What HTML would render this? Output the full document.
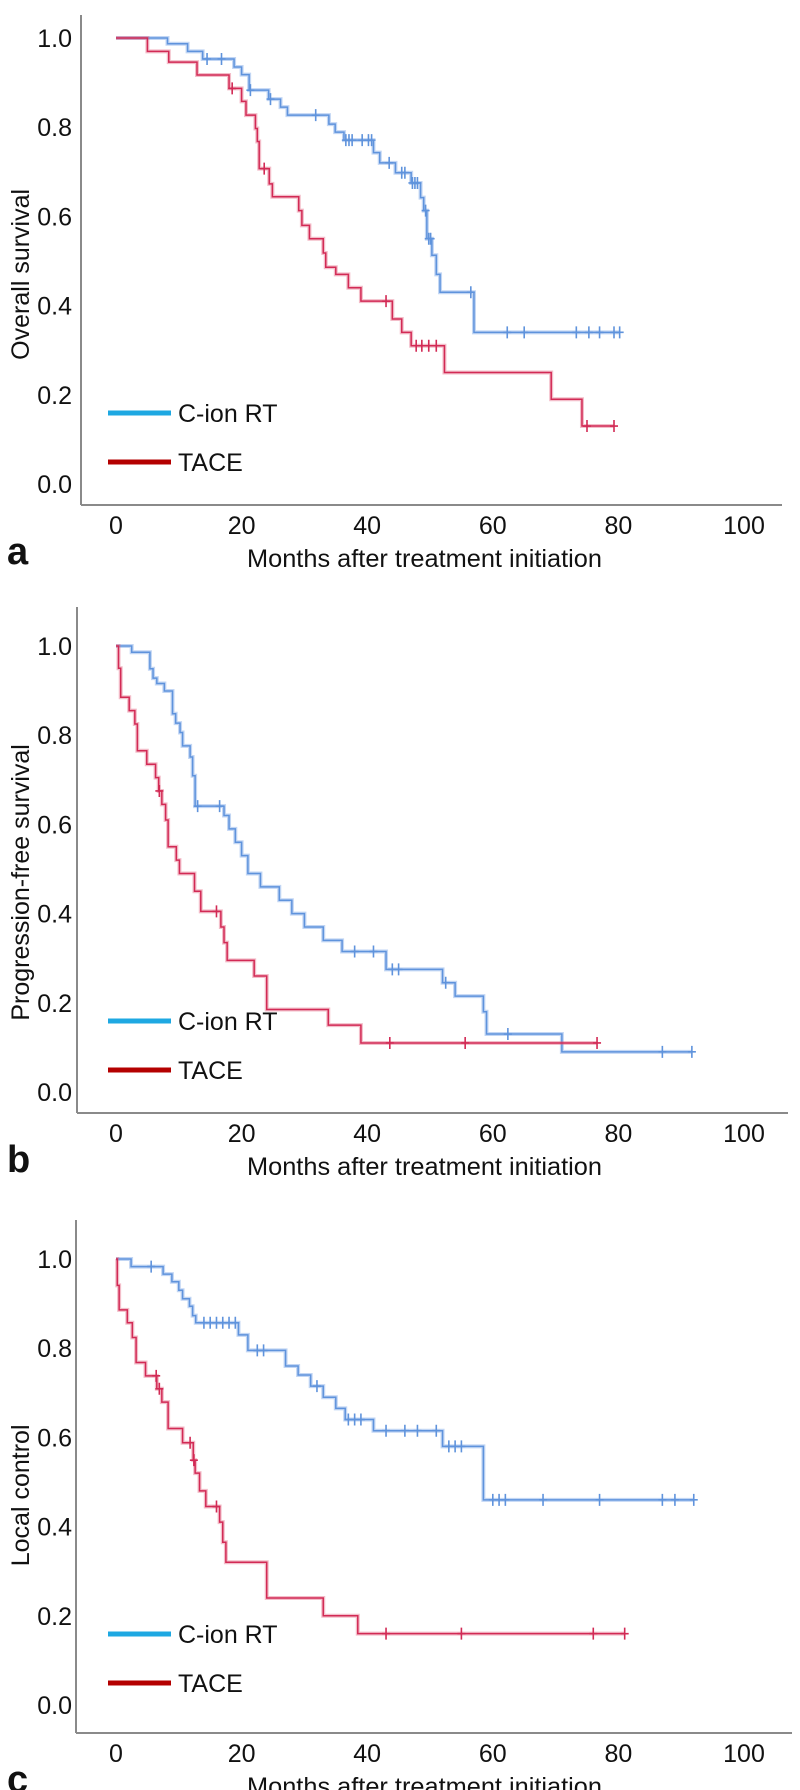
<!DOCTYPE html>
<html>
<head>
<meta charset="utf-8">
<style>
  html,body{margin:0;padding:0;background:#fff;}
  svg{display:block;}
  text{font-family:"Liberation Sans",Arial,sans-serif;fill:#111;}
</style>
</head>
<body>
<svg id="fig" width="800" height="1790" viewBox="0 0 800 1790" xmlns="http://www.w3.org/2000/svg"></svg>
<script>
// ---------- shared axis data ----------
const xTicks = [0, 20, 40, 60, 80, 100];
const yTicks = [0.0, 0.2, 0.4, 0.6, 0.8, 1.0];
const xTitle = "Months after treatment initiation";

// ---------- Panel a: Overall survival ----------
const aBlueDropT = [8.2, 11.4, 13.8, 18.8, 20, 21.2, 24.3, 26.2, 27.3, 33.9, 34.9, 36.3, 41, 42, 44.5, 47, 48.5, 49, 49.5, 50.3, 51, 51.6, 57];
const aBlueDropV = [0.987, 0.97, 0.953, 0.935, 0.918, 0.883, 0.863, 0.845, 0.827, 0.807, 0.789, 0.771, 0.743, 0.72, 0.698, 0.675, 0.642, 0.613, 0.55, 0.513, 0.47, 0.43, 0.34];
const aBlueCens = [14.5, 16.8, 21.4, 24.6, 31.8, 36.6, 37.1, 37.6, 39.2, 40.2, 40.7, 43.5, 45.5, 46, 47.2, 47.6, 48, 49.3, 49.8, 50.1, 56.5, 62.3, 65, 73.3, 75.3, 77, 79.3, 80.2];
const aBlueEnd = 80.2;
const aRedDropT = [5, 8.4, 12.9, 18, 20, 20.7, 22.2, 22.5, 22.8, 24.4, 24.9, 29.1, 29.6, 30.8, 33, 33.4, 35, 37, 39, 44, 45.5, 47, 52.3, 69.3, 74.2];
const aRedDropV = [0.97, 0.946, 0.917, 0.887, 0.858, 0.827, 0.797, 0.768, 0.707, 0.673, 0.644, 0.613, 0.58, 0.55, 0.518, 0.486, 0.47, 0.44, 0.41, 0.37, 0.34, 0.31, 0.25, 0.19, 0.13];
const aRedCens = [18.5, 23.6, 43, 47.8, 48.7, 49.8, 51, 75, 79.3];
const aRedEnd = 79.3;

// ---------- Panel b: Progression-free survival ----------
const bBlueDropT = [2.5, 5.4, 5.9, 6.5, 7.7, 9, 9.5, 10.2, 10.6, 11.8, 12.2, 12.6, 17.2, 18, 19, 20, 21, 23, 26, 28, 30, 33, 36, 43, 52, 54, 58.5, 59, 71];
const bBlueDropV = [0.986, 0.949, 0.928, 0.916, 0.899, 0.848, 0.827, 0.806, 0.776, 0.751, 0.709, 0.641, 0.62, 0.59, 0.56, 0.53, 0.49, 0.46, 0.43, 0.4, 0.37, 0.34, 0.315, 0.275, 0.245, 0.215, 0.18, 0.13, 0.09];
const bBlueCens = [13, 16.5, 38, 41, 44, 45, 52.5, 62.4, 87, 91.7];
const bBlueEnd = 91.7;
const bRedDropT = [0.4, 0.75, 2.1, 3, 3.4, 4.9, 6.3, 6.8, 7.3, 7.9, 8.3, 9.6, 10.1, 12.5, 13.5, 16.7, 17.2, 17.7, 22, 24, 33.8, 39];
const bRedDropV = [0.95, 0.885, 0.855, 0.825, 0.765, 0.735, 0.705, 0.675, 0.645, 0.61, 0.55, 0.52, 0.49, 0.45, 0.405, 0.37, 0.335, 0.295, 0.26, 0.185, 0.15, 0.11];
const bRedCens = [6.9, 16, 43.6, 55.6, 76.6];
const bRedEnd = 76.6;

// ---------- Panel c: Local control ----------
const cBlueDropT = [2.4, 7.5, 8.9, 10, 10.6, 11.7, 12.2, 12.7, 19.5, 21, 27, 29, 31, 33, 35, 36.5, 41, 52, 58.5];
const cBlueDropV = [0.983, 0.966, 0.949, 0.93, 0.911, 0.894, 0.873, 0.857, 0.83, 0.795, 0.76, 0.74, 0.715, 0.69, 0.665, 0.64, 0.615, 0.58, 0.46];
const cBlueCens = [5.6, 14, 15, 16, 17, 18, 19, 22.5, 23.5, 32, 37, 38, 39, 43, 46, 48, 51, 53, 54, 55, 60, 61, 62, 68, 77, 87, 89, 92];
const cBlueEnd = 92;
const cRedDropT = [0.2, 0.5, 1.8, 2.6, 3.2, 4.7, 6.5, 7.3, 8.3, 10.6, 12.3, 12.6, 13.3, 14.3, 16.5, 17, 17.5, 24, 33, 38.5];
const cRedDropV = [0.941, 0.886, 0.857, 0.824, 0.768, 0.738, 0.709, 0.679, 0.62, 0.588, 0.549, 0.52, 0.48, 0.445, 0.41, 0.365, 0.32, 0.24, 0.2, 0.16];
const cRedCens = [6.4, 6.9, 11.8, 12.4, 16, 43, 55, 76, 81];
const cRedEnd = 81;

// ---------- layout ----------
const NS = "http://www.w3.org/2000/svg";
const svg = document.getElementById('fig');
function mk(tag, attrs, parent) {
  const e = document.createElementNS(NS, tag);
  for (const k in attrs) e.setAttribute(k, attrs[k]);
  (parent || svg).appendChild(e);
  return e;
}

const panels = [
  {letter:'a', yTitle:'Overall survival', y0:484, axisY:505, axisTop:15, axisX:81, axisRight:782,
   series:[[aBlueDropT,aBlueDropV,aBlueCens,aBlueEnd,'blue'],[aRedDropT,aRedDropV,aRedCens,aRedEnd,'red']]},
  {letter:'b', yTitle:'Progression-free survival', y0:1092, axisY:1113, axisTop:607, axisX:77, axisRight:788,
   series:[[bBlueDropT,bBlueDropV,bBlueCens,bBlueEnd,'blue'],[bRedDropT,bRedDropV,bRedCens,bRedEnd,'red']]},
  {letter:'c', yTitle:'Local control', y0:1705, axisY:1733, axisTop:1220, axisX:76, axisRight:792,
   series:[[cBlueDropT,cBlueDropV,cBlueCens,cBlueEnd,'blue'],[cRedDropT,cRedDropV,cRedCens,cRedEnd,'red']]}
];

function xs(t){ return 116 + 6.28 * t; }

panels.forEach(function(p){
  const g = mk('g', {});
  
  
  const ys = function(v){ return p.y0 - 446 * v; };

  const ya = mk('line', {x1:p.axisX, y1:p.axisTop, x2:p.axisX, y2:p.axisY, stroke:'#8a8a8a', 'stroke-width':2}, g);
  
  
  const xa = mk('line', {x1:p.axisX, y1:p.axisY, x2:p.axisRight, y2:p.axisY, stroke:'#8a8a8a', 'stroke-width':2}, g);
  
  

  yTicks.forEach(function(v){
    const t = mk('text', {x:72, y:ys(v)+9, 'text-anchor':'end', 'font-size':25}, g);
    t.textContent = v.toFixed(1);
    
    
  });
  xTicks.forEach(function(v){
    const t = mk('text', {x:xs(v), y:p.axisY+29, 'text-anchor':'middle', 'font-size':25}, g);
    t.textContent = String(v);
    
    
  });
  const xt = mk('text', {x:247, y:p.axisY+62, 'font-size':25, textLength:355, lengthAdjust:'spacingAndGlyphs'}, g);
  xt.textContent = xTitle;
  
  
  const cy = ys(0.47);
  const yt = mk('text', {x:29, y:cy, 'text-anchor':'middle', 'font-size':25, transform:'rotate(-90 29 '+cy+')'}, g);
  yt.textContent = p.yTitle;
  
  
  const lt = mk('text', {x:7, y:p.axisY+59, 'font-size':38, 'font-weight':'bold'}, g);
  lt.textContent = p.letter;
  
  

  p.series.forEach(function(s){
    const dT = s[0], dV = s[1], cens = s[2], end = s[3], col = s[4];
    let d = 'M' + xs(0) + ' ' + ys(1);
    for (let i = 0; i < dT.length; i++) {
      d += ' H' + xs(dT[i]) + ' V' + ys(dV[i]);
    }
    d += ' H' + xs(end);
    const stroke = col === 'blue' ? '#5f93dc' : '#d22a55';
    const halo = col === 'blue' ? 'rgba(120,165,230,0.45)' : 'rgba(225,90,120,0.4)';
    const h = mk('path', {d:d, fill:'none', stroke:halo, 'stroke-width':4}, g);
    
    
    const ln = mk('path', {d:d, fill:'none', stroke:stroke, 'stroke-width':1.5}, g);
    
    
    cens.forEach(function(ct){
      let v = 1;
      for (let i = 0; i < dT.length; i++) { if (dT[i] <= ct) v = dV[i]; }
      const cx = xs(ct), cyv = ys(v);
      const m = mk('path', {d:'M'+cx+' '+(cyv-6)+' V'+(cyv+6)+' M'+(cx-4)+' '+cyv+' H'+(cx+4), stroke:stroke, 'stroke-width':1.6, fill:'none'}, g);
      
      
    });
  });

  const l1 = mk('line', {x1:108, y1:p.y0-71, x2:171, y2:p.y0-71, stroke:'#1ea8e2', 'stroke-width':5}, g);
  
  
  const t1 = mk('text', {x:178, y:p.y0-62, 'font-size':25}, g);
  t1.textContent = 'C-ion RT';
  
  
  const l2 = mk('line', {x1:108, y1:p.y0-22, x2:171, y2:p.y0-22, stroke:'#b40000', 'stroke-width':5}, g);
  
  
  const t2 = mk('text', {x:178, y:p.y0-13, 'font-size':25}, g);
  t2.textContent = 'TACE';
  
  
});
</script>
</body>
</html>
